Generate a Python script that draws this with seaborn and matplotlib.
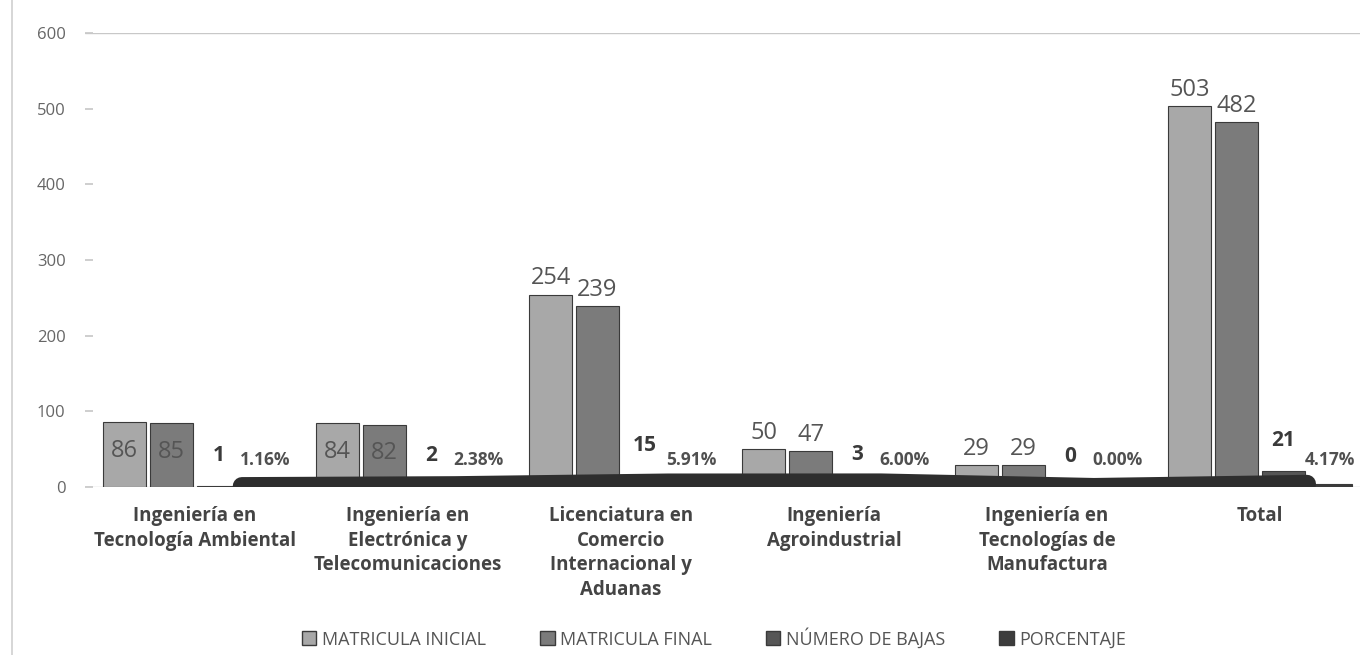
import numpy as np
import pandas as pd
import matplotlib
matplotlib.use("Agg")
import matplotlib.pyplot as plt
from matplotlib.patches import Patch
from matplotlib.lines import Line2D
import seaborn as sns

carreras = [
    "Ingeniería en\nTecnología Ambiental",
    "Ingeniería en\nElectrónica y\nTelecomunicaciones",
    "Licenciatura en\nComercio\nInternacional y\nAduanas",
    "Ingeniería\nAgroindustrial",
    "Ingeniería en\nTecnologías de\nManufactura",
    "Total",
]
matricula_inicial = [86, 84, 254, 50, 29, 503]
matricula_final = [85, 82, 239, 47, 29, 482]
numero_bajas = [1, 2, 15, 3, 0, 21]
porcentaje = [1.16, 2.38, 5.91, 6.00, 0.00, 4.17]

series = ["MATRICULA INICIAL", "MATRICULA FINAL", "NÚMERO DE BAJAS", "PORCENTAJE"]
colores = ["#a8a8a8", "#7b7b7b", "#565656", "#3c3c3c"]

df = pd.DataFrame({
    "carrera": carreras * 4,
    "serie": np.repeat(series, len(carreras)),
    "valor": matricula_inicial + matricula_final + numero_bajas + porcentaje,
})

sns.set_theme(style="white")
plt.rcParams["font.family"] = ["Open Sans", "DejaVu Sans"]

fig = plt.figure(figsize=(13.6, 6.55), dpi=100)
ax = fig.add_axes([0.0625, 0.2565, 0.9375, 0.6931])

sns.barplot(data=df, x="carrera", y="valor", hue="serie", hue_order=series,
            palette=colores, width=0.88, gap=0.08, edgecolor="#3a3a3a",
            linewidth=0.8, legend=False, ax=ax)

ax.set_xlim(-0.516, 5.469)
ax.set_ylim(0, 600)

n = len(series)
w = 0.88 / n
offs = [(-0.44 + w * (i + 0.5)) for i in range(n)]
xs = np.arange(len(carreras))

# dark ribbon running through the percentage series
ax.plot(xs + (offs[2] + offs[3]) / 2, porcentaje, color="#2e2e2e", lw=13,
        solid_capstyle="round", zorder=4)

txt_gray = "#555555"
for i in range(len(carreras)):
    for j, vals in enumerate([matricula_inicial, matricula_final]):
        v = vals[i]
        if 60 <= v <= 100:
            y, va = v * 0.55, "center"
        else:
            y, va = v + 6, "bottom"
        ax.text(xs[i] + offs[j], y, f"{v}", ha="center", va=va,
                fontsize=17, color=txt_gray, zorder=6)
    ax.text(xs[i] + offs[2], numero_bajas[i] + 40, f"{numero_bajas[i]}",
            ha="center", va="center", fontsize=15, fontweight="bold",
            color="#3a3a3a", zorder=6)
    ax.text(xs[i] + offs[3], 36, f"{porcentaje[i]:.2f}%", ha="center",
            va="center", fontsize=12.5, fontweight="bold", color="#505050",
            zorder=6)

ax.axhline(600, color="#c8c8c8", lw=1)
ax.axhline(0, color="#d0d0d0", lw=1, zorder=0)
for s in ax.spines.values():
    s.set_visible(False)

ax.set_yticks([0, 100, 200, 300, 400, 500, 600])
ax.tick_params(axis="y", length=6, color="#c8c8c8", labelsize=12,
               labelcolor="#666666", pad=14, left=True, direction="in")
ax.tick_params(axis="x", length=0, labelsize=13.5, labelcolor="#444444", pad=14)
for lab in ax.get_xticklabels():
    lab.set_fontweight("bold")
    lab.set_linespacing(1.3)
ax.set_xlabel("")
ax.set_ylabel("")

# chart-area frame on the left
fig.add_artist(Line2D([0.009, 0.009], [0.0, 1.0], transform=fig.transFigure,
                      color="#cfcfcf", lw=1.2))

handles = [Patch(facecolor=c, edgecolor="#3a3a3a") for c in colores]
fig.legend(handles, series, loc="lower center", ncol=4, frameon=False,
           bbox_to_anchor=(0.525, -0.015), fontsize=13, handlelength=0.8,
           handleheight=0.8, handletextpad=0.3, columnspacing=3.0,
           labelcolor="#555555")

fig.savefig("out.png", dpi=100)
